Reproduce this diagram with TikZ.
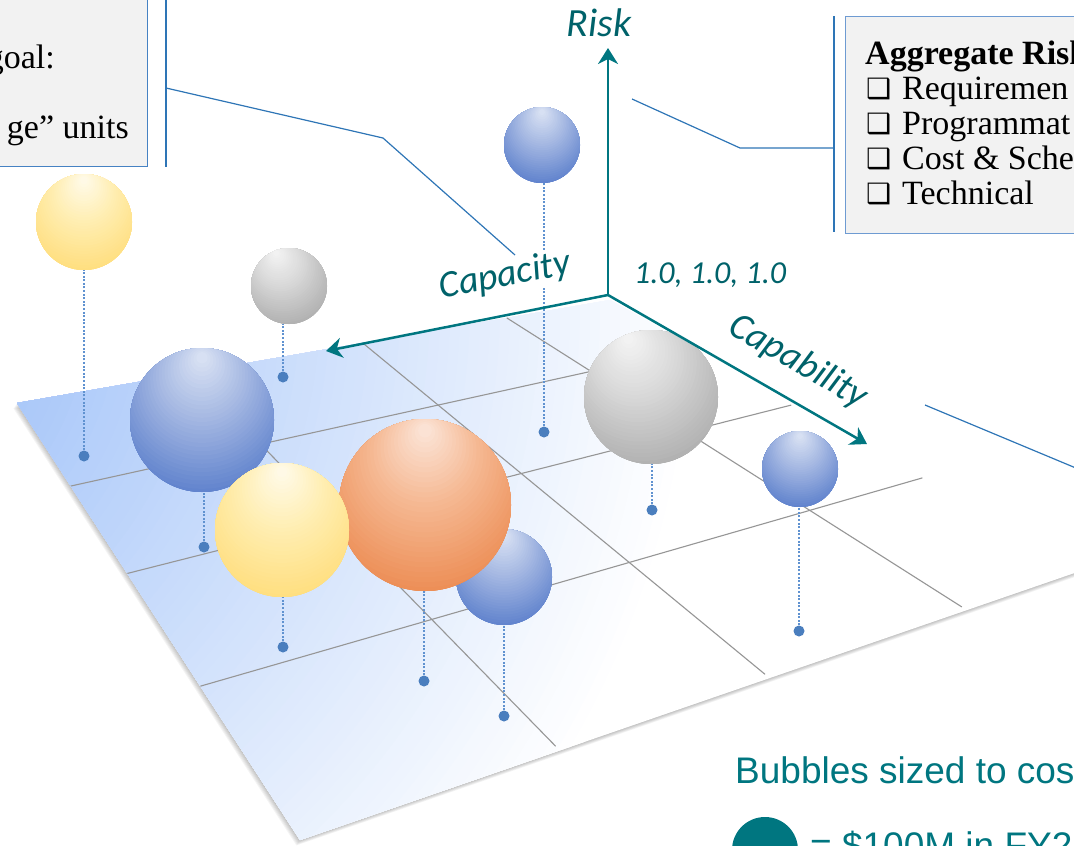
\documentclass[tikz,border=0pt]{standalone}
\usepackage{fontspec}
\setmainfont{Liberation Serif}
\newfontfamily\calibri{Carlito}
\newfontfamily\arialfont{Liberation Sans}
\newfontfamily\dingfont{DejaVu Sans}
\usetikzlibrary{arrows.meta,calc}

\definecolor{axisteal}{RGB}{0,118,128}
\definecolor{labelteal}{RGB}{0,98,106}
\definecolor{callblue}{RGB}{46,117,182}
\definecolor{boxedgeA}{RGB}{70,130,195}
\definecolor{boxedgeB}{RGB}{110,155,210}
\definecolor{boxfill}{RGB}{242,242,242}
\definecolor{gridgray}{RGB}{150,150,150}
\definecolor{dropblue}{RGB}{96,146,208}
\definecolor{dotblue}{RGB}{74,126,190}
\definecolor{planeblue}{RGB}{170,200,249}

% bubble palettes: rim, mid tone, highlight
\definecolor{bluerim}{RGB}{90,126,203}
\definecolor{bluemid}{RGB}{164,183,226}
\definecolor{bluehi}{RGB}{222,230,245}
\definecolor{grayrim}{RGB}{174,174,174}
\definecolor{graymid}{RGB}{216,216,216}
\definecolor{grayhi}{RGB}{246,246,246}
\definecolor{orangerim}{RGB}{236,138,80}
\definecolor{orangemid}{RGB}{245,184,146}
\definecolor{orangehi}{RGB}{252,232,221}
\definecolor{yellowrim}{RGB}{255,221,122}
\definecolor{yellowmid}{RGB}{255,238,178}
\definecolor{yellowhi}{RGB}{255,251,237}

% \drawbubble{name}{x}{y}{radius}{palette}{highlight x shift}
% a soft sphere built from nested discs that drift toward the highlight
\newcommand{\drawbubble}[6]{%
  \node[circle, inner sep=0pt, minimum size=#4*2pt] (#1) at (#2,#3) {};
  \begin{scope}
    \clip (#2,#3) circle (#4);
    \fill[#5rim] (#2,#3) circle (#4);
    \foreach \t in {0.70,0.68,...,0.02}{%
      \pgfmathsetmacro{\cx}{#2+(1-\t)*(#6)*#4}%
      \pgfmathsetmacro{\cy}{#3-(1-\t)*0.9*#4}%
      \pgfmathsetmacro{\rr}{2*\t*#4}%
      \ifdim \t pt > 0.32pt
        \pgfmathsetmacro{\pc}{(\t-0.32)/0.38*100}%
        \colorlet{bubtmp}{#5rim!\pc!#5mid}%
      \else
        \pgfmathsetmacro{\pc}{\t/0.32*100}%
        \colorlet{bubtmp}{#5mid!\pc!#5hi}%
      \fi
      \fill[bubtmp] (\cx,\cy) circle (\rr);
    }
  \end{scope}}

\tikzset{
  textbox/.style={draw=boxedgeA, line width=1.3pt, fill=boxfill, inner sep=0pt},
  boxtext/.style={font=\fontsize{34}{36}\selectfont, inner sep=0pt, text=black},
  callout/.style={draw=callblue, line width=1.2pt},
  gridline/.style={draw=gridgray, line width=1.1pt, shorten >=6pt},
  axisarrow/.style={draw=axisteal, line width=2.5pt,
    -{Stealth[length=16pt, width=20pt, inset=5pt]}},
  axislabel/.style={text=labelteal, font=\calibri\itshape\fontsize{38}{42}\selectfont, inner sep=1pt},
  droppin/.style={draw=dropblue, line width=1.3pt, dash pattern=on 2pt off 1.6pt},
  pin/.style={circle, fill=dotblue, inner sep=0pt, minimum size=11pt},
  legendtext/.style={text=axisteal, font=\arialfont\fontsize{37}{40}\selectfont, inner sep=0pt}
}
\newcommand{\chk}{\makebox[36pt][l]{\raisebox{1pt}{\dingfont\fontsize{28}{28}\selectfont ❑}}}

\begin{document}
\begin{tikzpicture}[x=1pt, y=-1pt]
\useasboundingbox (0,0) rectangle (1074,846);
\clip (0,0) rectangle (1074,846);

% ---------- floor plane ----------
\coordinate (A) at (17,403);
\coordinate (B) at (300,840);
\coordinate (C) at (1092,567);
\coordinate (D) at (610,300);

% soft shadow under the left and front edges
\foreach \k in {1,...,6}{
  \begin{scope}[transform canvas={shift={(-0.6*\k,0.9*\k)}}]
    \fill[black, opacity=0.045] (A) -- (B) -- (C) -- (D) -- cycle;
  \end{scope}
}
% pale blue glow fading from the far left corner
\begin{scope}
  \clip (A) -- (B) -- (C) -- (D) -- cycle;
  \fill[white] (A) -- (B) -- (C) -- (D) -- cycle;
  \foreach \r in {900,890,...,240}{
    \pgfmathsetmacro{\pc}{(900-\r)/6.6}
    \fill[planeblue!\pc!white] (-200,300) circle (\r);
  }
\end{scope}

% 4 x 4 grid on the floor
\draw[gridline] ($(A)!0.19!(B)$) -- ($(D)!0.18!(C)$);
\draw[gridline] ($(A)!0.39!(B)$) -- ($(D)!0.388!(C)$);
\draw[gridline] ($(A)!0.648!(B)$) -- ($(D)!0.66!(C)$);
\draw[gridline] ($(A)!0.293!(D)$) -- ($(B)!0.328!(C)$);
\draw[gridline] ($(A)!0.583!(D)$) -- ($(B)!0.593!(C)$);
\draw[gridline] ($(A)!0.826!(D)$) -- ($(B)!0.842!(C)$);

% ---------- text boxes and call-out lines ----------
\node[textbox, anchor=south east, minimum width=230pt, minimum height=200pt] (leftbox) at (148,167) {};
\node[boxtext, anchor=base east] (lgoal) at (55,68) {goal:};
\node[boxtext, anchor=base east] (lunits) at (129,138) {ge” units};

\node[textbox, draw=boxedgeB, anchor=north west, minimum width=300pt, minimum height=217pt] (rightbox) at (845,16) {};
\node[boxtext, anchor=base west] (rk0) at (865,64) {\textbf{Aggregate Risk}};
\node[boxtext, anchor=base west] (rk1) at (866,99) {\chk Requiremen};
\node[boxtext, anchor=base west] (rk2) at (866,134) {\chk Programmat};
\node[boxtext, anchor=base west] (rk3) at (866,169) {\chk Cost \& Sched};
\node[boxtext, anchor=base west] (rk4) at (866,204) {\chk Technical};

\coordinate (L0) at (166,0);
\coordinate (L1) at (166,167);
\coordinate (L2) at (166,88);
\coordinate (L3) at (383,138);
\coordinate (L4) at (515,255);
\draw[callout] (L0) -- (L1);
\draw[callout] (L2) -- (L3) -- (L4);

\coordinate (R0) at (834,16);
\coordinate (R1) at (834,232);
\coordinate (R2) at (834,148);
\coordinate (R3) at (740,148);
\coordinate (R4) at (632,99);
\draw[callout] (R0) -- (R1);
\draw[callout] (R2) -- (R3) -- (R4);

\coordinate (E0) at (925,405);
\coordinate (E1) at (1095,476);
\draw[callout] (E0) -- (E1);

% ---------- bubbles, back to front ----------
\drawbubble{s1}{84}{222}{48}{yellow}{0}
\drawbubble{s2}{289}{286}{38}{gray}{-0.35}
\drawbubble{s3}{542}{145}{38}{blue}{0}
\drawbubble{s8}{651}{397}{67}{gray}{-0.35}
\drawbubble{s9}{800}{469}{38}{blue}{0}
\drawbubble{s4}{202}{420}{72}{blue}{0}
\drawbubble{s7}{504}{577}{48}{blue}{0}
\drawbubble{s6}{425}{505}{86}{orange}{0}
\drawbubble{s5}{282}{530}{67}{yellow}{0}

% pins dropped from the bubbles to the floor
\node[pin] (p1) at (84,456) {};
\node[pin] (p2) at (283,377) {};
\node[pin] (p3) at (544,432) {};
\node[pin] (p4) at (204,547) {};
\node[pin] (p5) at (283,647) {};
\node[pin] (p6) at (424,681) {};
\node[pin] (p7) at (504,716) {};
\node[pin] (p8) at (652,510) {};
\node[pin] (p9) at (799,631) {};
\foreach \i in {1,...,9}{
  \draw[droppin] (p\i.north) -- (p\i.north |- s\i.south);
}

% ---------- axes ----------
\coordinate (O) at (608,295);
\coordinate (riskend) at (608,48);
\coordinate (capacityend) at (326,351);
\coordinate (capabilityend) at (867,444);
\draw[axisarrow] (O) -- (riskend);
\draw[axisarrow] (O) -- (capacityend);
\draw[axisarrow] (O) -- (capabilityend);

\node[axislabel, anchor=base, font=\calibri\itshape\fontsize{40}{44}\selectfont] (risklabel) at (599,36) {Risk};
\node[axislabel, anchor=base, rotate=11, fill=white] (capacitylabel) at (507,286) {Capacity};
\node[axislabel, anchor=center, rotate=-30] (capabilitylabel) at (798,362) {Capability};
\node[axislabel, anchor=base west, font=\calibri\itshape\fontsize{32}{36}\selectfont] (origin) at (633,283) {1.0, 1.0, 1.0};

% ---------- legend ----------
\node[legendtext, anchor=base west] (legtitle) at (735,783) {Bubbles sized to cos};
\node[circle, fill=axisteal, inner sep=0pt, minimum size=66pt] (legdot) at (765,850) {};
\node[legendtext, anchor=base west] (legvalue) at (810,858) {= \$100M in FY2};
\end{tikzpicture}
\end{document}
